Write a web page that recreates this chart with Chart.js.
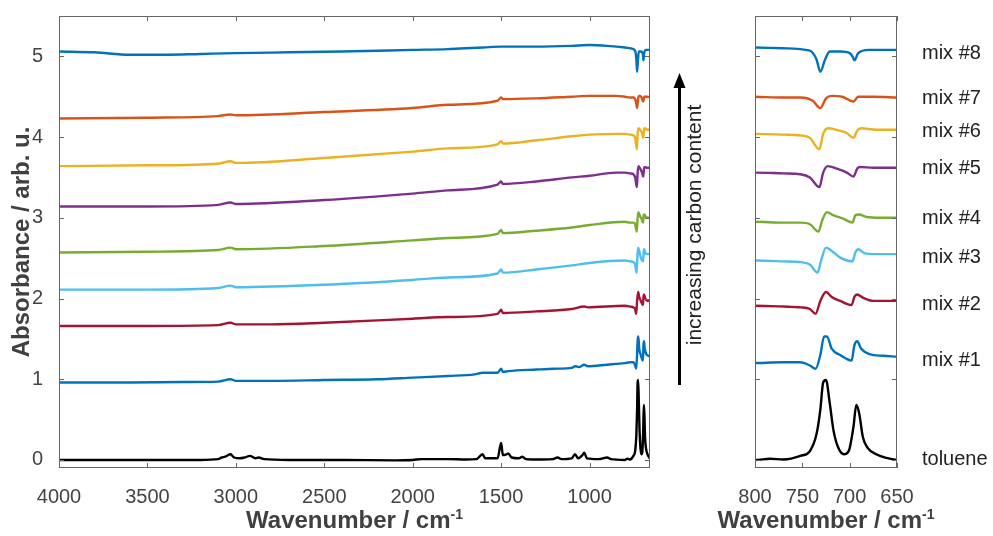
<!DOCTYPE html>
<html>
<head>
<meta charset="utf-8">
<script src="https://cdn.jsdelivr.net/npm/chart.js@4.4.0/dist/chart.umd.min.js"></script>
<style>
  html, body { margin: 0; padding: 0; background: #fff; }
  #wrap { position: relative; width: 993px; height: 536px; }
  #main { position: absolute; left: 0; top: 0; }
  #zoomed { position: absolute; left: 690px; top: 0; }
</style>
</head>
<body>
<div id="wrap">
  <canvas id="main" width="720" height="536"></canvas>
  <canvas id="zoomed" width="303" height="536"></canvas>
</div>
<script>
// spectra: [wavenumber, absorbance] (offsets included)
const toluene = [[4000,0],[3500,0],[3200,0],[3100,0.01],[3080,0.03],[3060,0.04],[3030,0.07],[3010,0.03],[2980,0.02],[2950,0.03],[2920,0.05],[2890,0.02],[2870,0.03],[2840,0.01],[2700,0],[2400,0],[2100,-0.005],[2000,0],[1950,0.01],[1870,0.01],[1800,0.01],[1700,0.005],[1640,0.01],[1605,0.07],[1590,0.02],[1520,0.02],[1500,0.21],[1490,0.06],[1470,0.07],[1460,0.08],[1440,0.03],[1400,0.02],[1380,0.04],[1360,0.01],[1300,0.005],[1210,0.01],[1180,0.03],[1160,0.01],[1100,0.02],[1082,0.07],[1065,0.02],[1040,0.06],[1030,0.09],[1015,0.02],[950,0.01],[900,0.03],[880,0.01],[800,0],[784,0.015],[770,0.005],[752,0.05],[742,0.11],[735,0.32],[731,0.62],[728,0.96],[725,0.99],[721,0.70],[717,0.36],[712,0.15],[706,0.07],[701,0.11],[696,0.41],[693,0.68],[690,0.58],[686,0.28],[681,0.15],[672,0.07],[661,0.025],[650,0]];
const mix1 = [[4000,0.96],[3600,0.96],[3300,0.965],[3100,0.97],[3030,1.0],[3000,0.98],[2800,0.98],[2500,0.99],[2200,1.0],[2000,1.02],[1800,1.04],[1650,1.06],[1605,1.08],[1520,1.08],[1500,1.13],[1490,1.09],[1460,1.1],[1300,1.12],[1200,1.13],[1100,1.14],[1080,1.16],[1060,1.15],[1030,1.18],[1010,1.16],[900,1.18],[800,1.2],[770,1.21],[752,1.21],[742,1.17],[736,1.13],[731,1.30],[727,1.53],[724,1.53],[719,1.38],[710,1.30],[698,1.23],[695,1.42],[692,1.47],[688,1.38],[679,1.31],[665,1.29],[650,1.28]];
const mix2 = [[4000,1.66],[3500,1.66],[3100,1.67],[3030,1.70],[3000,1.68],[2800,1.68],[2500,1.70],[2000,1.75],[1800,1.77],[1520,1.81],[1500,1.86],[1490,1.82],[1300,1.84],[1100,1.87],[1030,1.90],[1010,1.89],[800,1.91],[770,1.90],[752,1.89],[742,1.87],[736,1.81],[731,1.97],[725,2.08],[719,2.02],[710,1.97],[698,1.92],[695,2.02],[692,2.05],[686,2.01],[675,1.97],[650,1.97]];
const mix3 = [[4000,2.11],[3500,2.11],[3100,2.13],[3030,2.16],[3000,2.14],[2500,2.17],[2000,2.23],[1800,2.26],[1520,2.31],[1500,2.36],[1490,2.32],[1300,2.36],[1100,2.41],[1000,2.44],[800,2.47],[770,2.46],[752,2.45],[742,2.42],[734,2.32],[730,2.48],[725,2.63],[719,2.59],[709,2.50],[697,2.46],[694,2.57],[691,2.61],[684,2.56],[672,2.55],[650,2.55]];
const mix4 = [[4000,2.57],[3500,2.58],[3100,2.60],[3030,2.63],[3000,2.61],[2500,2.65],[2000,2.72],[1800,2.75],[1520,2.80],[1500,2.85],[1490,2.81],[1300,2.84],[1100,2.88],[1000,2.91],[800,2.95],[770,2.94],[752,2.94],[742,2.92],[733,2.83],[729,2.97],[724,3.07],[717,3.03],[707,2.99],[697,2.94],[694,3.03],[690,3.04],[682,3.01],[668,3.00],[650,3.00]];
const mix5 = [[4000,3.14],[3500,3.14],[3100,3.16],[3030,3.19],[3000,3.17],[2500,3.22],[2000,3.30],[1800,3.34],[1520,3.41],[1500,3.45],[1490,3.42],[1300,3.45],[1100,3.50],[1000,3.52],[850,3.56],[800,3.56],[770,3.55],[752,3.54],[742,3.50],[732,3.38],[728,3.56],[723,3.64],[714,3.61],[703,3.56],[696,3.51],[692,3.61],[689,3.63],[675,3.62],[650,3.62]];
const mix6 = [[4000,3.64],[3500,3.65],[3100,3.67],[3030,3.70],[3000,3.68],[2500,3.74],[2000,3.82],[1800,3.86],[1520,3.91],[1500,3.95],[1490,3.92],[1300,3.96],[1100,4.01],[1000,4.03],[850,4.04],[800,4.04],[770,4.03],[752,4.02],[742,3.99],[732,3.85],[728,4.04],[723,4.11],[714,4.09],[703,4.05],[696,3.99],[692,4.08],[688,4.11],[672,4.09],[650,4.09]];
const mix7 = [[4000,4.23],[3500,4.24],[3100,4.26],[3030,4.28],[3000,4.27],[2500,4.31],[2000,4.36],[1800,4.40],[1520,4.45],[1500,4.49],[1490,4.47],[1300,4.48],[1100,4.50],[1000,4.51],[850,4.51],[800,4.50],[770,4.49],[752,4.49],[739,4.45],[731,4.36],[725,4.48],[719,4.51],[708,4.50],[696,4.44],[691,4.50],[675,4.50],[650,4.49]];
const mix8 = [[4000,5.06],[3800,5.05],[3600,5.02],[3400,5.02],[3200,5.03],[3000,5.04],[2700,5.05],[2400,5.06],[2000,5.08],[1800,5.09],[1700,5.10],[1600,5.11],[1500,5.12],[1300,5.12],[1100,5.13],[1000,5.14],[900,5.13],[800,5.11],[770,5.10],[742,5.07],[735,4.96],[731,4.81],[726,4.96],[721,5.06],[710,5.06],[700,5.04],[697,5.00],[695,4.95],[691,5.04],[680,5.08],[650,5.08]];

const seriesNames = ['toluene', 'mix #1', 'mix #2', 'mix #3', 'mix #4', 'mix #5', 'mix #6', 'mix #7', 'mix #8'];
const seriesData = [toluene, mix1, mix2, mix3, mix4, mix5, mix6, mix7, mix8];
const seriesColors = ['#000000', '#0072BD', '#A2142F', '#4DBEEE', '#77AC30', '#7E2F8E', '#EDB120', '#D95319', '#0072BD'];

const mainXTicks = [4000, 3500, 3000, 2500, 2000, 1500, 1000];
const zoomXTicks = [800, 750, 700, 650];
const yTicks = [0, 1, 2, 3, 4, 5];

// layout only: vertical pixel position of the right-hand labels
const labelY = [459, 360, 304, 257, 218, 168, 131, 98, 53];

const FONT = "'Liberation Sans', Arial, Helvetica, sans-serif";
const tickColor = '#444444';
const titleColor = '#404040';
const frameColor = '#666666';

function makeDatasets() {
  return seriesData.map((d, i) => ({
    label: seriesNames[i],
    data: d.map(p => ({ x: p[0], y: p[1] })),
    borderColor: seriesColors[i],
    backgroundColor: seriesColors[i],
    borderWidth: 2.4,
    pointRadius: 0,
    fill: false,
    cubicInterpolationMode: 'monotone'
  }));
}

// box around the plot area plus inward ticks (matlab style)
const framePlugin = {
  id: 'frame',
  afterDraw(chart, args, opts) {
    const { ctx, chartArea: a, scales } = chart;
    ctx.save();
    ctx.strokeStyle = frameColor;
    ctx.lineWidth = 1;
    ctx.strokeRect(a.left + 0.5, a.top + 0.5, a.width - 1, a.height - 1);
    const len = 5;
    ctx.beginPath();
    opts.xTicks.forEach(v => {
      const x = Math.round(scales.x.getPixelForValue(v)) + 0.5;
      ctx.moveTo(x, a.bottom); ctx.lineTo(x, a.bottom - len);
      ctx.moveTo(x, a.top); ctx.lineTo(x, a.top + len);
    });
    opts.yTicks.forEach(v => {
      const y = Math.round(scales.y.getPixelForValue(v)) + 0.5;
      ctx.moveTo(a.left, y); ctx.lineTo(a.left + len, y);
      ctx.moveTo(a.right, y); ctx.lineTo(a.right - len, y);
    });
    ctx.stroke();

    // x axis title with a real superscript
    const cx = (a.left + a.right) / 2;
    const main = 'Wavenumber / cm', sup = '-1';
    ctx.fillStyle = titleColor;
    ctx.font = 'bold 24px ' + FONT;
    const w1 = ctx.measureText(main).width;
    ctx.font = 'bold 14px ' + FONT;
    const w2 = ctx.measureText(sup).width;
    const x0 = cx - (w1 + w2) / 2;
    ctx.textAlign = 'left';
    ctx.textBaseline = 'alphabetic';
    ctx.font = 'bold 24px ' + FONT;
    ctx.fillText(main, x0, 528);
    ctx.font = 'bold 14px ' + FONT;
    ctx.fillText(sup, x0 + w1, 519);
    ctx.restore();
  }
};

const arrowPlugin = {
  id: 'arrow',
  afterDraw(chart) {
    const ctx = chart.ctx;
    ctx.save();
    ctx.strokeStyle = '#000';
    ctx.fillStyle = '#000';
    ctx.lineWidth = 3;
    ctx.beginPath();
    ctx.moveTo(679.5, 385);
    ctx.lineTo(679.5, 84);
    ctx.stroke();
    ctx.beginPath();
    ctx.moveTo(679.5, 73);
    ctx.lineTo(673.5, 88);
    ctx.lineTo(685.5, 88);
    ctx.closePath();
    ctx.fill();

    ctx.translate(700.5, 225);
    ctx.rotate(-Math.PI / 2);
    ctx.font = '21px ' + FONT;
    ctx.fillStyle = '#222';
    ctx.textAlign = 'center';
    ctx.textBaseline = 'alphabetic';
    ctx.fillText('increasing carbon content', 0, 0);
    ctx.restore();
  }
};

const labelPlugin = {
  id: 'seriesLabels',
  afterDraw(chart) {
    const ctx = chart.ctx;
    ctx.save();
    ctx.font = '20px ' + FONT;
    ctx.fillStyle = '#222';
    ctx.textAlign = 'left';
    ctx.textBaseline = 'middle';
    seriesNames.forEach((n, i) => ctx.fillText(n, 232, labelY[i]));
    ctx.restore();
  }
};

function xScale(min, max, ticks) {
  return {
    type: 'linear',
    reverse: true,
    min: min,
    max: max,
    afterBuildTicks: s => { s.ticks = ticks.map(v => ({ value: v })); },
    afterFit: s => { s.height = 68; s.paddingLeft = 0; s.paddingRight = 0; },
    grid: { display: false },
    border: { display: false },
    ticks: {
      font: { size: 20, family: FONT },
      color: tickColor,
      padding: 9,
      maxRotation: 0,
      autoSkip: false,
      callback: v => String(v)
    }
  };
}

new Chart(document.getElementById('main'), {
  type: 'line',
  data: { datasets: makeDatasets() },
  plugins: [framePlugin, arrowPlugin],
  options: {
    responsive: false,
    animation: false,
    devicePixelRatio: 1,
    layout: { padding: { top: 16, right: 70, left: 0, bottom: 0 } },
    plugins: {
      legend: { display: false },
      tooltip: { enabled: false },
      frame: { xTicks: mainXTicks, yTicks: yTicks }
    },
    scales: {
      x: xScale(658, 4000, mainXTicks),
      y: {
        type: 'linear',
        min: -0.1,
        max: 5.5,
        afterBuildTicks: s => { s.ticks = yTicks.map(v => ({ value: v })); },
        afterFit: s => { s.width = 59; s.paddingTop = 0; s.paddingBottom = 0; },
        grid: { display: false },
        border: { display: false },
        ticks: { font: { size: 20, family: FONT }, color: tickColor, padding: 8 },
        title: {
          display: true,
          text: 'Absorbance / arb. u.',
          color: titleColor,
          font: { size: 24, weight: 'bold', family: FONT },
          padding: { top: 8, bottom: 0 }
        }
      }
    }
  }
});

new Chart(document.getElementById('zoomed'), {
  type: 'line',
  data: { datasets: makeDatasets() },
  plugins: [framePlugin, labelPlugin],
  options: {
    responsive: false,
    animation: false,
    devicePixelRatio: 1,
    layout: { padding: { top: 16, right: 96, left: 65, bottom: 0 } },
    plugins: {
      legend: { display: false },
      tooltip: { enabled: false },
      frame: { xTicks: zoomXTicks, yTicks: yTicks }
    },
    scales: {
      x: xScale(650, 800, zoomXTicks),
      y: { type: 'linear', min: -0.1, max: 5.5, display: false }
    }
  }
});
</script>
</body>
</html>
